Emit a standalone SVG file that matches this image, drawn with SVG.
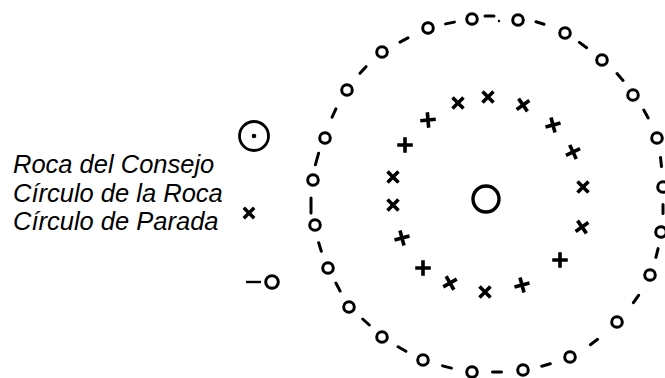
<svg xmlns="http://www.w3.org/2000/svg" xmlns:xlink="http://www.w3.org/1999/xlink" width="665" height="378" viewBox="0 0 665 378">
<style>
.lbl{font-family:"Liberation Sans",Arial,sans-serif;font-style:italic;font-size:25.5px;fill:#000}
.oc{fill:none;stroke:#000;stroke-width:3}
.ds{stroke:#000;stroke-width:3;stroke-linecap:round;fill:none}
.xm{stroke:#000;stroke-width:3.6;fill:none}
</style>
<defs>
<path id="xm" class="xm" d="M-5.5,-5.5L5.5,5.5M5.5,-5.5L-5.5,5.5"/>
<circle id="oc" class="oc" r="5.3"/>
</defs>
<rect width="665" height="378" fill="#fff"/>
<g id="legend">
<g id="legend-council-rock">
<circle cx="254" cy="136" r="14.5" fill="none" stroke="#000" stroke-width="2.8"/>
<circle cx="254" cy="136" r="2.3" fill="#000"/>
</g>
<g id="legend-rock-circle"><use xlink:href="#xm" transform="translate(249,213) scale(0.95)"/></g>
<g id="legend-stop-circle">
<line class="ds" x1="246" y1="282" x2="261" y2="282" style="stroke-width:2.4;stroke-linecap:butt"/>
<circle class="oc" cx="272" cy="282" r="6.3"/>
</g>
<text class="lbl" x="13" y="173">Roca del Consejo</text>
<text class="lbl" x="13" y="202">Círculo de la Roca</text>
<text class="lbl" x="13" y="230">Círculo de Parada</text>
</g>
<g id="council-rock"><circle cx="486" cy="199" r="13" fill="none" stroke="#000" stroke-width="3.4"/></g>
<g id="rock-circle">
<use xlink:href="#xm" transform="translate(488,97)"/>
<use xlink:href="#xm" transform="translate(523,105) rotate(10)"/>
<use xlink:href="#xm" transform="translate(553,125) rotate(30)"/>
<use xlink:href="#xm" transform="translate(573,152) rotate(20)"/>
<use xlink:href="#xm" transform="translate(583,187)"/>
<use xlink:href="#xm" transform="translate(582,227) rotate(10)"/>
<use xlink:href="#xm" transform="translate(560,260) rotate(45)"/>
<use xlink:href="#xm" transform="translate(522,285) rotate(30)"/>
<use xlink:href="#xm" transform="translate(485,292)"/>
<use xlink:href="#xm" transform="translate(450,283) rotate(15)"/>
<use xlink:href="#xm" transform="translate(423,268) rotate(45)"/>
<use xlink:href="#xm" transform="translate(402,238) rotate(30)"/>
<use xlink:href="#xm" transform="translate(393,205)"/>
<use xlink:href="#xm" transform="translate(393,177)"/>
<use xlink:href="#xm" transform="translate(405,145) rotate(45)"/>
<use xlink:href="#xm" transform="translate(428,120) rotate(40)"/>
<use xlink:href="#xm" transform="translate(458,103)"/>
</g>
<g id="stop-circle">
<use xlink:href="#oc" x="472" y="19"/>
<use xlink:href="#oc" x="518" y="20"/>
<use xlink:href="#oc" x="565" y="33"/>
<use xlink:href="#oc" x="602" y="60"/>
<use xlink:href="#oc" x="633" y="95"/>
<use xlink:href="#oc" x="657" y="138"/>
<use xlink:href="#oc" x="663" y="187"/>
<use xlink:href="#oc" x="661" y="232"/>
<use xlink:href="#oc" x="650" y="275"/>
<use xlink:href="#oc" x="617" y="322"/>
<use xlink:href="#oc" x="570" y="357"/>
<use xlink:href="#oc" x="523" y="370"/>
<use xlink:href="#oc" x="472" y="372"/>
<use xlink:href="#oc" x="423" y="360"/>
<use xlink:href="#oc" x="382" y="337"/>
<use xlink:href="#oc" x="349" y="307"/>
<use xlink:href="#oc" x="328" y="268"/>
<use xlink:href="#oc" x="315" y="225"/>
<use xlink:href="#oc" x="313" y="180"/>
<use xlink:href="#oc" x="325" y="138"/>
<use xlink:href="#oc" x="347" y="90"/>
<use xlink:href="#oc" x="382" y="52"/>
<use xlink:href="#oc" x="428" y="28"/>
</g>
<g id="connectors">
<path class="ds" d="M485,16H494M536,21.8L544,24.2M579.4,42.4L586.6,47.7M617,73.6L623,80.4M643.8,110.1L648.2,117.9M660.5,157.5L661.5,166.5M663,204.5V213.5M658.1,248.6L655.9,257.4M638.6,295.3L633.4,302.7M597.6,339.3L590.4,344.7M550.3,363.8L541.7,366.2M501.5,372H492.5M451.4,368.1L442.6,365.9M405.9,351.2L398.1,346.8M369.3,325L362.7,319M340.1,291L335.9,283M321.3,251.3L318.7,242.7M311,198V213M315.4,164.8L318.6,153.2M332.1,117.1L335.9,108.9M360,73.3L366,66.7M400,42.1L408,37.9M445.6,23.9L454.4,22.1"/>
<circle cx="499" cy="21" r="1.2" fill="#000"/>
</g>
</svg>
